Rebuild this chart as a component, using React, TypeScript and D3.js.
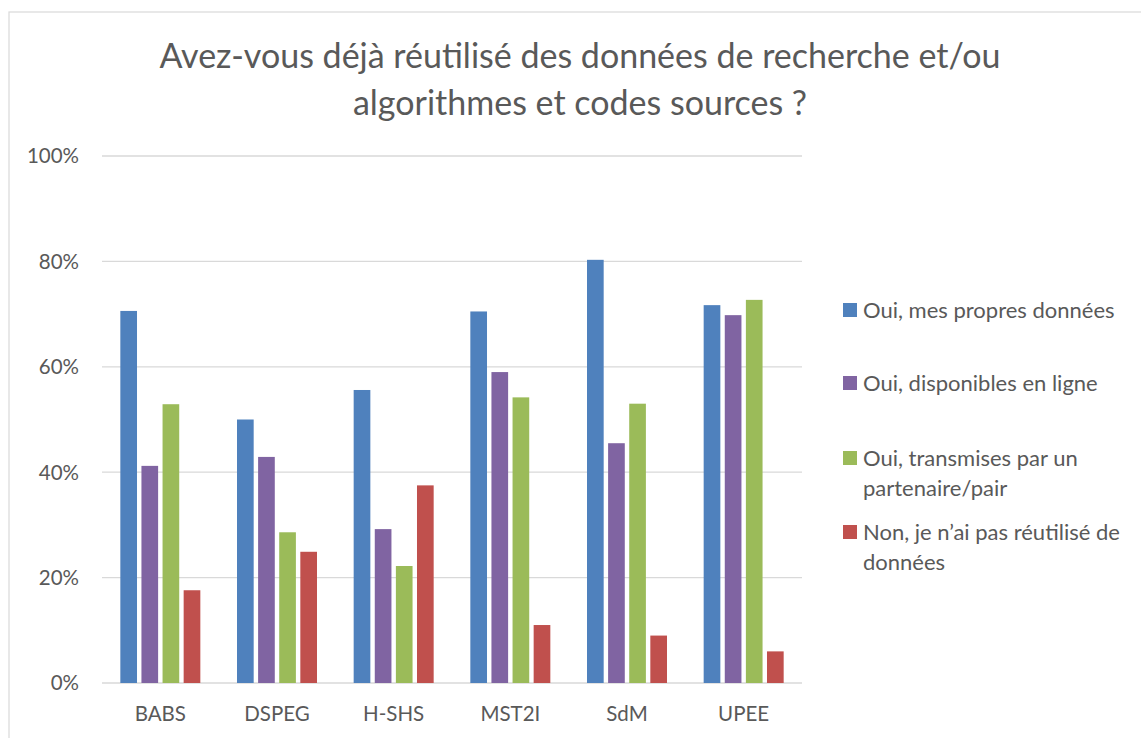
import React from "react";
import * as d3 from "d3";

const categories = ["BABS", "DSPEG", "H-SHS", "MST2I", "SdM", "UPEE"];
const seriesNames = [
  "Oui, mes propres données",
  "Oui, disponibles en ligne",
  "Oui, transmises par un partenaire/pair",
  "Non, je n’ai pas réutilisé de données",
];
const legendLines = [
  ["Oui, mes propres données"],
  ["Oui, disponibles en ligne"],
  ["Oui, transmises par un", "partenaire/pair"],
  ["Non, je n’ai pas réutilisé de", "données"],
];
const ownData = [0.706, 0.5, 0.556, 0.705, 0.803, 0.717];
const onlineData = [0.412, 0.429, 0.292, 0.59, 0.455, 0.698];
const partnerData = [0.529, 0.286, 0.222, 0.542, 0.53, 0.727];
const noReuse = [0.176, 0.249, 0.375, 0.11, 0.09, 0.06];
const seriesValues = [ownData, onlineData, partnerData, noReuse];
const colors = ["#4F81BD", "#8064A2", "#9BBB59", "#C0504D"];
const yTicks = [0, 0.2, 0.4, 0.6, 0.8, 1];
const titleLines = [
  "Avez-vous déjà réutilisé des données de recherche et/ou",
  "algorithmes et codes sources ?",
];

const W = 1141;
const H = 738;
const FONT = "Lato, 'Open Sans', sans-serif";
const TEXT = "#595959";

export default function App() {
  const plotLeft = 102;
  const plotRight = 802;
  const y = d3.scaleLinear().domain([0, 1]).range([683, 156]);
  const x0 = d3.scaleBand<string>().domain(categories).range([plotLeft, plotRight]).padding(0);
  const groupW = 80;
  const off = (x0.bandwidth() - groupW) / 2;
  const x1 = d3
    .scaleBand<number>()
    .domain(d3.range(seriesNames.length))
    .range([off, off + groupW])
    .paddingInner(0.21)
    .paddingOuter(0);
  const fmt = d3.format(".0%");
  const legendY = [310, 383, 458, 532];

  return (
    <svg
      width={W}
      height={H}
      style={{ position: "absolute", left: 0, top: 0, display: "block", background: "#fff" }}
      fontFamily={FONT}
    >
      <rect x={0} y={0} width={W} height={H} fill="#fff" />
      <rect x={9} y={12} width={W + 20} height={H + 20} fill="none" stroke="#d9d9d9" strokeWidth={1.2} />
      {titleLines.map((t, i) => (
        <text key={i} x={580} y={68 + i * 47} textAnchor="middle" fontSize={34} fill={TEXT}>
          {t}
        </text>
      ))}
      {yTicks.map((t) => (
        <g key={t}>
          <line x1={plotLeft} x2={plotRight} y1={y(t)} y2={y(t)} stroke="#d9d9d9" strokeWidth={1.3} />
          <text x={79} y={y(t)} dy="0.36em" textAnchor="end" fontSize={20.5} fill={TEXT}>
            {fmt(t)}
          </text>
        </g>
      ))}
      {categories.map((c, ci) => (
        <g key={c} transform={`translate(${x0(c)},0)`}>
          {seriesValues.map((vals, si) => (
            <rect
              key={si}
              x={x1(si)}
              y={y(vals[ci])}
              width={x1.bandwidth()}
              height={y(0) - y(vals[ci])}
              fill={colors[si]}
            />
          ))}
          <text x={x0.bandwidth() / 2} y={714} dy="0.36em" textAnchor="middle" fontSize={20.5} fill={TEXT}>
            {c}
          </text>
        </g>
      ))}
      {legendLines.map((lines, i) => (
        <g key={i}>
          <rect x={843} y={legendY[i] - 7} width={14} height={14} fill={colors[i]} />
          {lines.map((l, j) => (
            <text key={j} x={863} y={legendY[i] + j * 30} dy="0.36em" fontSize={22} fill={TEXT}>
              {l}
            </text>
          ))}
        </g>
      ))}
    </svg>
  );
}
